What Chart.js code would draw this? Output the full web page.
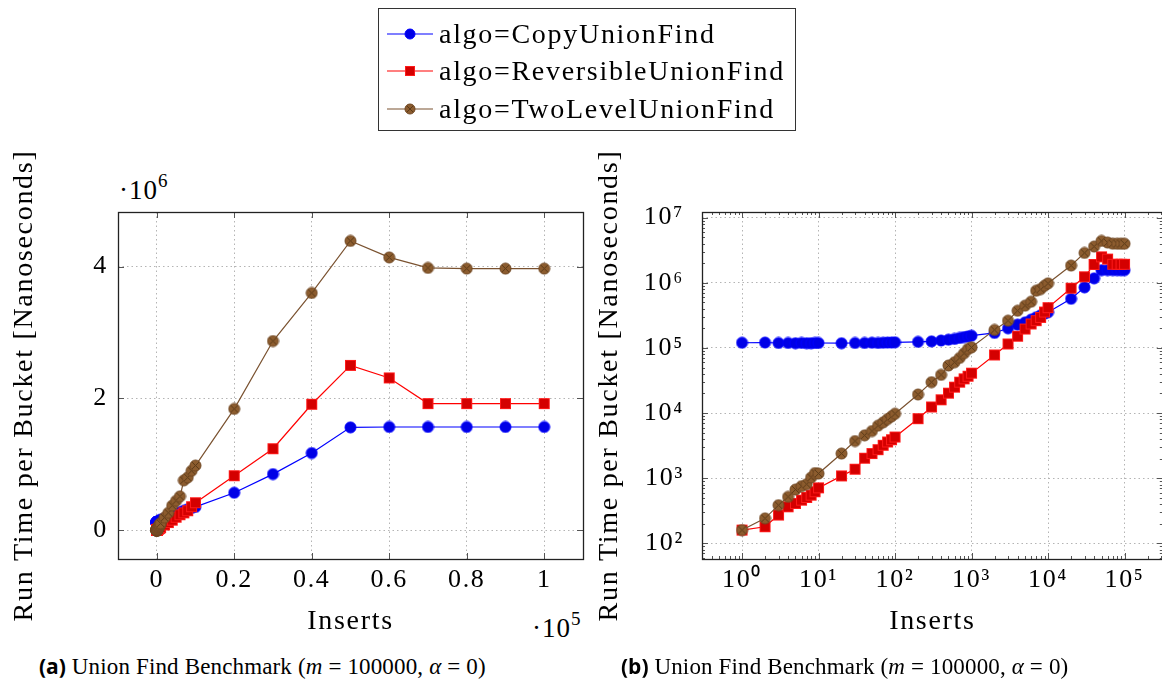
<!DOCTYPE html>
<html>
<head>
<meta charset="utf-8">
<script src="https://cdn.jsdelivr.net/npm/chart.js@4.4.0/dist/chart.umd.min.js"></script>
<style>
  html, body { margin: 0; padding: 0; background: #fff; overflow: hidden; }
  #page { position: relative; width: 1162px; height: 689px; overflow: hidden; font-family: "Liberation Serif", serif; color: #000; }
  #page > canvas { position: absolute; }
  #left { left: 0; top: 140px; }
  #right { left: 585px; top: 140px; }
  .legend { position: absolute; left: 378px; top: 8px; width: 416px; height: 121px; border: 1px solid #333; }
  .legend .row { position: absolute; left: 8px; height: 36px; display: flex; align-items: center; font-size: 28px; letter-spacing: 1.7px; white-space: nowrap; }
  .legend .row canvas { margin-right: 6px; }
  .mult { position: absolute; font-size: 27px; letter-spacing: 1px; white-space: nowrap; }
  .mult sup { font-size: 19px; position: relative; top: -2px; }
  .caption { position: absolute; top: 652px; font-size: 23px; letter-spacing: 0.15px; white-space: nowrap; }
  .caption b { font-family: "Open Sans", sans-serif; font-weight: 700; font-size: 21px; letter-spacing: 0; }
</style>
</head>
<body>
<div id="page">
  <div class="legend" id="legend"></div>
  <div class="mult" style="left:119px; top:172px;">·10<sup>6</sup></div>
  <div class="mult" style="left:532px; top:610px;">·10<sup>5</sup></div>
  <canvas id="left" width="600" height="510"></canvas>
  <canvas id="right" width="585" height="510"></canvas>
  <div class="caption" style="left:39px;"><b>(a)</b> Union Find Benchmark (<i>m</i> = 100000, <i>α</i> = 0)</div>
  <div class="caption" style="left:621px;"><b>(b)</b> Union Find Benchmark (<i>m</i> = 100000, <i>α</i> = 0)</div>
</div>
<script>
// inserts per bucket
const inserts = [1, 2, 3, 4, 5, 6, 7, 8, 9, 10,
  20, 30, 40, 50, 60, 70, 80, 90, 100,
  200, 300, 400, 500, 600, 700, 800, 900, 1000,
  2000, 3000, 4000, 5000, 6000, 7000, 8000, 9000, 10000,
  20000, 30000, 40000, 50000, 60000, 70000, 80000, 90000, 100000];

// run time per bucket (ns)
const copyUF = [120000, 121000, 119000, 119000, 118000, 119000, 118000, 118000, 119000, 119000,
  118000, 119000, 119000, 120000, 119000, 120000, 121000, 121000, 122000,
  124000, 126000, 130000, 134000, 137000, 142000, 147000, 150000, 154000,
  170000, 200000, 228000, 247000, 272000, 295000, 316000, 336000, 352000,
  567000, 850000, 1170000, 1560000, 1565000, 1565000, 1565000, 1565000, 1565000];

const reversibleUF = [160, 180, 272, 364, 410, 460, 506, 550, 620, 711,
  1085, 1375, 2025, 2390, 2745, 3200, 3600, 3900, 4290,
  8200, 12400, 16000, 20200, 25000, 29800, 33500, 36800, 41000,
  78000, 115000, 151000, 195000, 233000, 262000, 294000, 355000, 415000,
  825000, 1235000, 1910000, 2500000, 2310000, 1920000, 1920000, 1920000, 1920000];

const twoLevelUF = [160, 242, 386, 518, 671, 755, 810, 1024, 1200, 1180,
  2390, 3720, 4550, 5300, 6400, 7200, 8100, 8900, 9770,
  19300, 29800, 38600, 53700, 60300, 70300, 82800, 96500, 102000,
  189000, 262000, 372000, 445000, 512000, 755000, 800000, 900000, 980000,
  1840000, 2870000, 3600000, 4390000, 4140000, 3980000, 3970000, 3970000, 3970000];

const seriesNames = ['algo=CopyUnionFind', 'algo=ReversibleUnionFind', 'algo=TwoLevelUnionFind'];

// tick values and labels
const linXTicks = [0, 20000, 40000, 60000, 80000, 100000];
const linXLabels = ['0', '0.2', '0.4', '0.6', '0.8', '1'];
const linYTicks = [0, 2000000, 4000000];
const linYLabels = ['0', '2', '4'];
const logXTicks = [1, 10, 100, 1000, 10000, 100000];
const logYTicks = [100, 1000, 10000, 100000, 1000000, 10000000];

const FONT = '"Liberation Serif", serif';
const SUP = '⁰¹²³⁴⁵⁶⁷⁸⁹';
function powLabel(v) {
  const e = Math.round(Math.log10(v));
  return '10' + String(e).split('').map(d => SUP[+d]).join('');
}

/* markers */
function marker(kind, size) {
  const c = document.createElement('canvas');
  c.width = size; c.height = size;
  const g = c.getContext('2d');
  const m = size / 2, r = size / 2 - 1;
  if (kind === 'circle') {
    g.beginPath(); g.arc(m, m, r, 0, Math.PI * 2);
    g.fillStyle = '#0000e6'; g.fill();
    g.strokeStyle = '#0000ff'; g.lineWidth = 1; g.stroke();
  } else if (kind === 'square') {
    g.fillStyle = '#d40000'; g.fillRect(1, 1, size - 2, size - 2);
    g.strokeStyle = '#ff1a1a'; g.lineWidth = 1; g.strokeRect(1.5, 1.5, size - 3, size - 3);
  } else {
    g.beginPath(); g.arc(m, m, r, 0, Math.PI * 2);
    g.fillStyle = '#8c5c2e'; g.fill();
    g.strokeStyle = '#6e4622'; g.lineWidth = 1; g.stroke();
    const d = r * 0.62;
    g.beginPath();
    g.moveTo(m - d, m - d); g.lineTo(m + d, m + d);
    g.moveTo(m + d, m - d); g.lineTo(m - d, m + d);
    g.strokeStyle = '#5a3a18'; g.stroke();
  }
  return c;
}

const styles = [
  { line: '#0000ff', point: marker('circle', 13) },
  { line: '#ff0000', point: marker('square', 13) },
  { line: '#7a5230', point: marker('otimes', 13) }
];

/* legend */
const legend = document.getElementById('legend');
seriesNames.forEach((name, i) => {
  const row = document.createElement('div');
  row.className = 'row';
  row.style.top = [7, 44, 82][i] + 'px';
  const c = document.createElement('canvas');
  c.width = 46; c.height = 20;
  const g = c.getContext('2d');
  g.strokeStyle = styles[i].line; g.lineWidth = 1.2;
  g.beginPath(); g.moveTo(0, 10); g.lineTo(46, 10); g.stroke();
  g.drawImage(marker(['circle', 'square', 'otimes'][i], 12), 17, 4);
  row.appendChild(c);
  row.appendChild(document.createTextNode(name));
  legend.appendChild(row);
});

function buildDatasets() {
  return [copyUF, reversibleUF, twoLevelUF].map((ys, i) => ({
    label: seriesNames[i],
    data: inserts.map((x, k) => ({ x: x, y: ys[k] })),
    borderColor: styles[i].line,
    borderWidth: 1.2,
    pointStyle: styles[i].point,
    pointRadius: 6,
    order: 3 - i,
    clip: false
  }));
}

/* wider letter spacing for the axis text, closer to the original serif */
const spacingPlugin = {
  id: 'spacing',
  beforeDraw(chart) { chart.ctx.letterSpacing = '1.7px'; },
  afterDraw(chart) { chart.ctx.letterSpacing = '0px'; }
};

/* frame with inward tick marks on all four sides */
const framePlugin = {
  id: 'frame',
  afterDraw(chart) {
    const { ctx, chartArea: a } = chart;
    const sx = chart.scales.x, sy = chart.scales.y;
    ctx.save();
    ctx.strokeStyle = '#555';
    ctx.lineWidth = 1;
    function minors(scale) {
      if (scale.type !== 'logarithmic') return [];
      const out = [];
      for (let e = Math.floor(Math.log10(scale.min)); e <= Math.ceil(Math.log10(scale.max)); e++) {
        for (let k = 2; k <= 9; k++) {
          const v = k * Math.pow(10, e);
          if (v > scale.min && v < scale.max) out.push(v);
        }
      }
      return out;
    }
    function xMarks(values, len) {
      values.forEach(v => {
        const px = Math.round(sx.getPixelForValue(v)) + 0.5;
        ctx.beginPath();
        ctx.moveTo(px, a.bottom); ctx.lineTo(px, a.bottom - len);
        ctx.moveTo(px, a.top); ctx.lineTo(px, a.top + len);
        ctx.stroke();
      });
    }
    function yMarks(values, len) {
      values.forEach(v => {
        const py = Math.round(sy.getPixelForValue(v)) + 0.5;
        ctx.beginPath();
        ctx.moveTo(a.left, py); ctx.lineTo(a.left + len, py);
        ctx.moveTo(a.right, py); ctx.lineTo(a.right - len, py);
        ctx.stroke();
      });
    }
    xMarks(sx.ticks.map(t => t.value), 6);
    yMarks(sy.ticks.map(t => t.value), 6);
    xMarks(minors(sx), 3);
    yMarks(minors(sy), 3);
    ctx.strokeStyle = '#222';
    ctx.lineWidth = 1.3;
    ctx.strokeRect(Math.round(a.left) + 0.5, Math.round(a.top) + 0.5,
      Math.round(a.right - a.left), Math.round(a.bottom - a.top));
    ctx.restore();
  }
};

function axis(opts) {
  return Object.assign({
    grid: { color: '#b4b4b4', lineWidth: 1, drawTicks: false },
    border: { display: false, dash: [1.5, 3] }
  }, opts);
}

function makeChart(id, xScale, yScale) {
  return new Chart(document.getElementById(id), {
    type: 'line',
    data: { datasets: buildDatasets() },
    options: {
      responsive: false,
      animation: false,
      devicePixelRatio: 1,
      layout: { padding: { top: 72, left: 0, right: id === 'left' ? 17 : 4, bottom: 0 } },
      plugins: { legend: { display: false }, tooltip: { enabled: false } },
      scales: { x: xScale, y: yScale }
    },
    plugins: [spacingPlugin, framePlugin]
  });
}

const xTitle = { display: true, text: 'Inserts', color: '#000', font: { family: FONT, size: 28 }, padding: { top: 0, bottom: 12 } };
const yTitle = { display: true, text: 'Run Time per Bucket [Nanoseconds]', color: '#000', font: { family: FONT, size: 28 }, padding: { top: 8, bottom: 0 } };

makeChart('left',
  axis({
    type: 'linear', min: -10000, max: 110000,
    afterBuildTicks: s => { s.ticks = linXTicks.map(v => ({ value: v })); },
    afterFit: s => { s.height = 91; },
    ticks: { color: '#000', font: { family: FONT, size: 26 }, padding: 6, maxRotation: 0, autoSkip: false,
      callback: v => linXLabels[linXTicks.indexOf(v)] },
    title: xTitle
  }),
  axis({
    type: 'linear', min: -439000, max: 4829000,
    afterBuildTicks: s => { s.ticks = linYTicks.map(v => ({ value: v })); },
    afterFit: s => { s.width = 118; },
    ticks: { color: '#000', font: { family: FONT, size: 26 }, padding: 10, autoSkip: false,
      callback: v => linYLabels[linYTicks.indexOf(v)] },
    title: yTitle
  })
);

makeChart('right',
  axis({
    type: 'logarithmic', min: Math.pow(10, -0.5), max: Math.pow(10, 5.5),
    afterBuildTicks: s => { s.ticks = logXTicks.map(v => ({ value: v })); },
    afterFit: s => { s.height = 91; },
    ticks: { color: '#000', font: { family: FONT, size: 26 }, padding: 6, maxRotation: 0, autoSkip: false,
      callback: v => powLabel(v) },
    title: xTitle
  }),
  axis({
    type: 'logarithmic', min: Math.pow(10, 1.76), max: Math.pow(10, 7.086),
    afterBuildTicks: s => { s.ticks = logYTicks.map(v => ({ value: v })); },
    afterFit: s => { s.width = 117; },
    ticks: { color: '#000', font: { family: FONT, size: 26 }, padding: 18, autoSkip: false,
      callback: v => powLabel(v) },
    title: yTitle
  })
);
</script>
</body>
</html>
